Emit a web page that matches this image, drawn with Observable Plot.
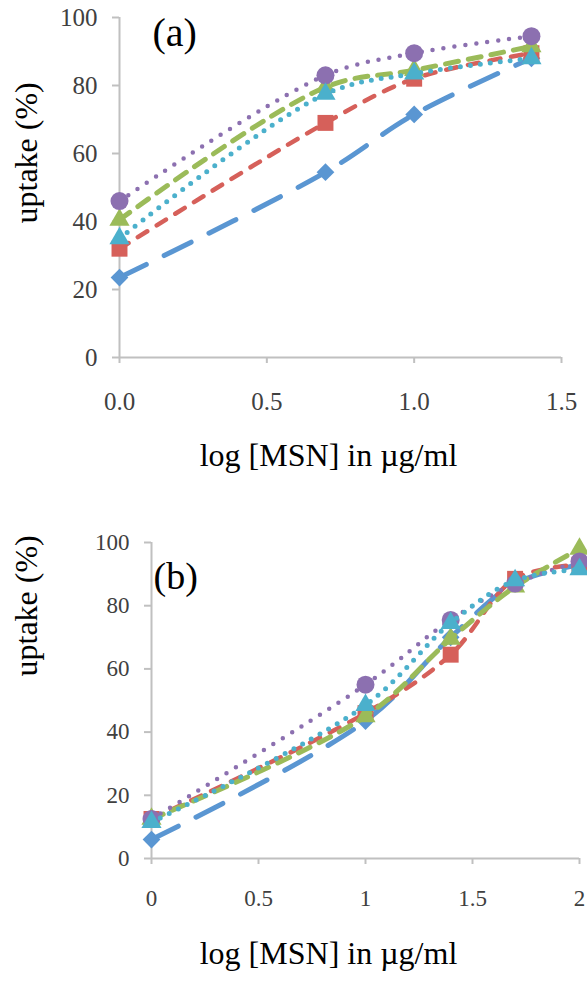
<!DOCTYPE html>
<html>
<head>
<meta charset="utf-8">
<script src="https://cdn.jsdelivr.net/npm/d3@7"></script>
<script src="https://cdn.jsdelivr.net/npm/@observablehq/plot@0.6"></script>
<style>
  body { margin: 0; background: #fff; }
  #chart svg { display: block; }
</style>
</head>
<body>
<div id="chart"></div>
<script>
// ---------- data ----------
const yTicks = [0, 20, 40, 60, 80, 100];
const xTicksA = [0, 0.5, 1, 1.5];
const xTickLabelsA = ["0.0", "0.5", "1.0", "1.5"];
const xTicksB = [0, 0.5, 1, 1.5, 2];
const xTickLabelsB = ["0", "0.5", "1", "1.5", "2"];

const yTitle = "uptake (%)";
const xTitle = "log [MSN] in \u00b5g/ml";
const panelLabels = ["(a)", "(b)"];

// panel (a): log concentrations and uptake values per series
const xA = [0, 0.699, 1, 1.398];
const blueA   = [23.5, 54.5, 71.5, 88];
const redA    = [32, 69, 82, 89.5];
const greenA  = [40.5, 79.5, 84.5, 91.5];
const purpleA = [46, 83, 89.5, 94.5];
const cyanA   = [35, 77.5, 83.5, 88];

// panel (b)
const xB = [0, 1, 1.398, 1.699, 2];
const blueB   = [6, 43.5, 70, 87, 93];
const redB    = [12.5, 46, 64.5, 88.5, 93];
const greenB  = [12.5, 45, 69.5, 86, 98];
const purpleB = [12.5, 55, 75.5, 87, 94];
const cyanB   = [11.5, 48.5, 74.5, 88, 91.5];

// ---------- styles ----------
const seriesStyles = [
  {color: "#5A96D2", symbol: "diamond2", r: 8,   width: 5,   dash: "30 20"},
  {color: "#D6605A", symbol: "square",   r: 9,   width: 4.5, dash: "11 11"},
  {color: "#9BBB59", symbol: "triangle", r: 7.5, width: 5,   dash: "13 10"},
  {color: "#8C70B0", symbol: "circle",   r: 9,   width: 4.5, dash: "0 11"},
  {color: "#4BB0CC", symbol: "triangle", r: 7.5, width: 5,   dash: "0 10"}
];
const axisColor = "#c0c0c0";
const tickTextColor = "#404040";
const font = "'Liberation Serif', 'Times New Roman', serif";

function seriesMarks(xs, ysList) {
  const marks = [];
  ysList.forEach((ys, i) => {
    const st = seriesStyles[i];
    const rows = xs.map((x, j) => ({x, y: ys[j]}));
    marks.push(Plot.line(rows, {
      x: "x", y: "y", stroke: st.color, strokeWidth: st.width,
      strokeDasharray: st.dash, strokeLinecap: "round", curve: "catmull-rom"
    }));
    marks.push(Plot.dot(rows, {
      x: "x", y: "y", symbol: st.symbol, r: st.r, fill: st.color, stroke: "none"
    }));
  });
  return marks;
}

function panel(cfg) {
  return Plot.plot({
    width: 587,
    height: cfg.height,
    marginLeft: cfg.ml, marginRight: cfg.mr, marginTop: cfg.mt, marginBottom: cfg.mb,
    style: {fontFamily: font, background: "#fff", overflow: "hidden"},
    x: {domain: cfg.xDomain},
    y: {domain: [0, 100]},
    marks: [
      Plot.ruleX([0], {stroke: axisColor, strokeWidth: 2}),
      Plot.ruleY([0], {stroke: axisColor, strokeWidth: 2}),
      Plot.axisY({ticks: yTicks, tickSize: 7, tickPadding: 15, fontSize: cfg.tickFont,
        fontFamily: font, stroke: axisColor, strokeWidth: 2, fill: tickTextColor, label: null,
        tickFormat: d => String(d)}),
      Plot.axisX({ticks: cfg.xTicks, tickSize: 6, tickPadding: cfg.xPad, fontSize: cfg.tickFont,
        fontFamily: font, stroke: axisColor, strokeWidth: 2, fill: tickTextColor, label: null,
        tickFormat: d => cfg.xLabels[cfg.xTicks.indexOf(d)]}),
      ...seriesMarks(cfg.xs, cfg.ys),
      Plot.text([yTitle], {frameAnchor: "left", rotate: -90, dx: cfg.yTdx, dy: cfg.yTdy,
        fontSize: 32, fontFamily: font, fill: "#000"}),
      Plot.text([xTitle], {frameAnchor: "bottom", dx: cfg.xTdx, dy: cfg.xTdy,
        fontSize: 32, fontFamily: font, fill: "#000"}),
      Plot.text([cfg.label], {frameAnchor: "top-left", textAnchor: "start", lineAnchor: "top",
        dx: cfg.ldx, dy: cfg.ldy, fontSize: cfg.labelFont, fontFamily: font, fill: "#000"})
    ]
  });
}

const chart = document.getElementById("chart");
chart.appendChild(panel({
  height: 490, ml: 119, mr: 26, mt: 17, mb: 133,
  xDomain: [0, 1.5], xTicks: xTicksA, xLabels: xTickLabelsA, xPad: 29, tickFont: 25,
  xs: xA, ys: [blueA, redA, greenA, purpleA, cyanA],
  yTdx: -93, yTdy: 36, xTdx: -12, xTdy: 108,
  label: panelLabels[0], ldx: 33, ldy: 0, labelFont: 40
}));
chart.appendChild(panel({
  height: 493, ml: 151, mr: 8, mt: 52, mb: 125,
  xDomain: [0, 2], xTicks: xTicksB, xLabels: xTickLabelsB, xPad: 25, tickFont: 23,
  xs: xB, ys: [blueB, redB, greenB, purpleB, cyanB],
  yTdx: -125, yTdy: -24, xTdx: -37, xTdy: 105,
  label: panelLabels[1], ldx: 2, ldy: 20, labelFont: 38
}));
</script>
</body>
</html>
